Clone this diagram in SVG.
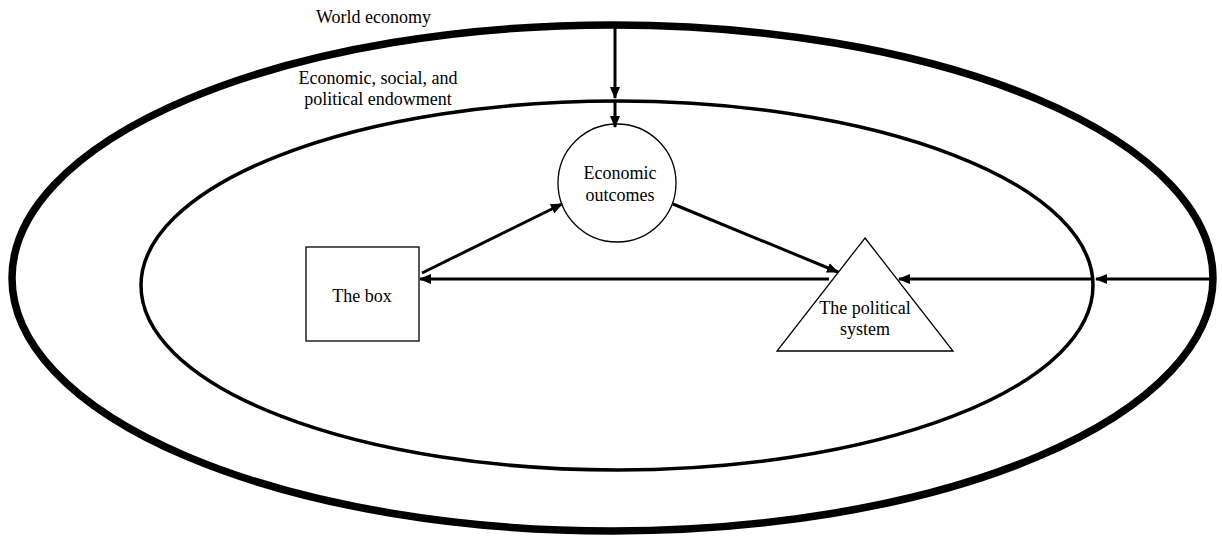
<svg xmlns="http://www.w3.org/2000/svg" width="1222" height="536" viewBox="0 0 1222 536">
<style>
.t{font-family:'Liberation Serif','Times New Roman',Times,serif;font-size:18px;fill:#000}
.node{fill:#fff;stroke:#000;stroke-width:1.3}
.arr{stroke:#000;stroke-width:3;fill:none;marker-end:url(#ah)}
</style>
<defs>
<marker id="ah" markerUnits="userSpaceOnUse" markerWidth="12" markerHeight="10" refX="11" refY="5" orient="auto">
<path d="M0,0 L12,5 L0,10 Z" fill="#000"/>
</marker>
</defs>
<rect width="1222" height="536" fill="#fff"/>
<g id="world-economy">
<ellipse cx="612.5" cy="278" rx="600.5" ry="253" fill="none" stroke="#000" stroke-width="7.5"/>
<text class="t" font-family="Liberation Serif, serif" x="316" y="23">World economy</text>
</g>
<g id="endowment">
<ellipse cx="617" cy="285.5" rx="476" ry="184.5" fill="none" stroke="#000" stroke-width="3.5"/>
<text class="t" font-family="Liberation Serif, serif" x="378" y="84" text-anchor="middle">Economic, social, and</text>
<text class="t" font-family="Liberation Serif, serif" x="378" y="105" text-anchor="middle">political endowment</text>
</g>
<g id="economic-outcomes">
<circle class="node" cx="617" cy="183" r="59"/>
<text class="t" font-family="Liberation Serif, serif" x="620" y="179" text-anchor="middle">Economic</text>
<text class="t" font-family="Liberation Serif, serif" x="620" y="201" text-anchor="middle">outcomes</text>
</g>
<g id="the-box">
<rect class="node" x="306" y="247" width="113" height="94"/>
<text class="t" font-family="Liberation Serif, serif" x="362" y="302" text-anchor="middle">The box</text>
</g>
<g id="political-system">
<polygon class="node" points="865,238 953,351 777,351"/>
<text class="t" font-family="Liberation Serif, serif" x="865" y="314" text-anchor="middle">The political</text>
<text class="t" font-family="Liberation Serif, serif" x="865" y="335" text-anchor="middle">system</text>
</g>
<g id="connectors">
<line class="arr" x1="615" y1="26" x2="615" y2="98"/>
<line class="arr" x1="615" y1="102" x2="615" y2="127"/>
<line class="arr" x1="422" y1="273" x2="562" y2="204"/>
<line class="arr" x1="673" y1="204" x2="838" y2="272"/>
<line class="arr" x1="829" y1="279" x2="420" y2="279"/>
<line class="arr" x1="1210" y1="279" x2="1096" y2="279"/>
<line class="arr" x1="1092" y1="279" x2="899" y2="279"/>
</g>
</svg>
